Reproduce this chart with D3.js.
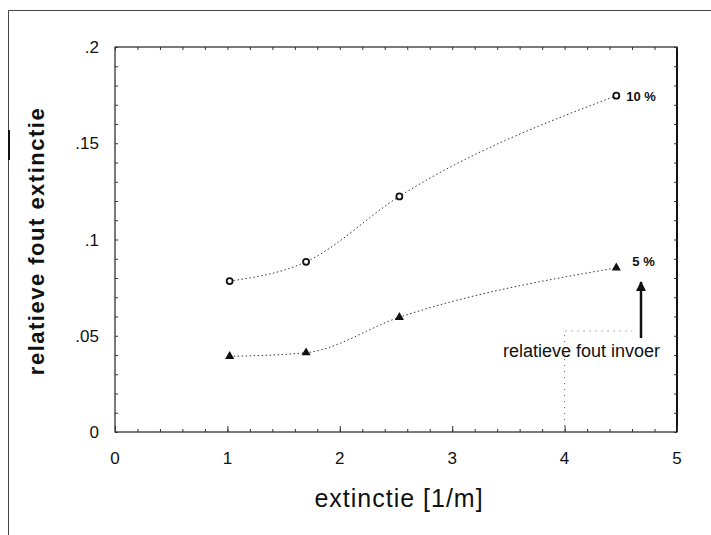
<!DOCTYPE html>
<html>
<head>
<meta charset="utf-8">
<script src="https://cdn.jsdelivr.net/npm/d3@7"></script>
<style>
body{margin:0;background:#fff;}
text{font-family:"Liberation Sans",Arial,sans-serif;fill:#111;}
</style>
</head>
<body>
<div id="chart"></div>
<script>
// values
var ext = [1.02, 1.70, 2.53, 4.46];
var fout10 = [0.0784, 0.0884, 0.1224, 0.1747];
var fout5 = [0.0393, 0.0412, 0.0596, 0.0853];
var xTicks = [0, 1, 2, 3, 4, 5];
var yTicks = [0, 0.05, 0.1, 0.15, 0.2];
var yTickLabels = ["0", ".05", ".1", ".15", ".2"];
var seriesNames = ["10 %", "5 %"];
var invoer = [4, 0.0525];   // corner of dotted guide box

var w = 711, h = 535;
var pLeft = 115, pRight = 677, pTop = 47, pBottom = 432;

var svg = d3.select("#chart").append("svg").attr("width", w).attr("height", h);

// outer frame of the scan
svg.append("path").attr("d", "M8.5," + h + "V10.5H" + w).attr("fill", "none").attr("stroke", "#444").attr("stroke-width", 1);
svg.append("line").attr("x1", 9).attr("x2", 9).attr("y1", 130).attr("y2", 160).attr("stroke", "#111").attr("stroke-width", 2);

var x = d3.scaleLinear().domain([0, 5]).range([pLeft, pRight]);
var y = d3.scaleLinear().domain([0, 0.2]).range([pBottom, pTop]);

// frame
svg.append("rect").attr("x", pLeft).attr("y", pTop).attr("width", pRight - pLeft).attr("height", pBottom - pTop)
    .attr("fill", "none").attr("stroke", "#222").attr("stroke-width", 1.2);
svg.append("line").attr("x1", pRight).attr("x2", pRight).attr("y1", pTop).attr("y2", pBottom).attr("stroke", "#111").attr("stroke-width", 2);

// ticks inward on all sides
var xMinor = d3.range(0, 5.001, 0.2);
var yMinor = d3.range(0, 0.2001, 0.01);
function noDomain(g){ g.select(".domain").remove(); }
svg.append("g").attr("transform", "translate(0," + pBottom + ")")
    .call(d3.axisTop(x).tickValues(xMinor).tickSize(3).tickFormat("")).call(noDomain);
svg.append("g").attr("transform", "translate(0," + pTop + ")")
    .call(d3.axisBottom(x).tickValues(xMinor).tickSize(3).tickFormat("")).call(noDomain);
svg.append("g").attr("transform", "translate(0," + pBottom + ")")
    .call(d3.axisTop(x).tickValues(xTicks).tickSize(6).tickFormat("")).call(noDomain);
svg.append("g").attr("transform", "translate(" + pLeft + ",0)")
    .call(d3.axisRight(y).tickValues(yMinor).tickSize(3).tickFormat("")).call(noDomain);
svg.append("g").attr("transform", "translate(" + pRight + ",0)")
    .call(d3.axisLeft(y).tickValues(yMinor).tickSize(3).tickFormat("")).call(noDomain);
svg.selectAll("g.tick line").attr("stroke", "#333");

// tick labels
svg.append("g").selectAll("text").data(xTicks).enter().append("text")
    .attr("x", function(d){return x(d);}).attr("y", pBottom + 32)
    .attr("text-anchor", "middle").attr("font-size", 17).text(function(d){return d;});
svg.append("g").selectAll("text").data(yTicks).enter().append("text")
    .attr("x", 99).attr("y", function(d){return y(d) + 6;})
    .attr("text-anchor", "end").attr("font-size", 17).text(function(d, i){return yTickLabels[i];});

// axis titles
svg.append("text").attr("x", 399).attr("y", 507).attr("text-anchor", "middle")
    .attr("font-size", 25).attr("letter-spacing", 1).text("extinctie [1/m]");
svg.append("text").attr("transform", "translate(44,241) rotate(-90)").attr("text-anchor", "middle")
    .attr("font-size", 22).attr("font-weight", "bold").attr("letter-spacing", 1.5).text("relatieve fout extinctie");

// dotted guide for "relatieve fout invoer"
svg.append("path")
    .attr("d", "M" + x(invoer[0]) + "," + y(0) + "V" + y(invoer[1]) + "H" + x(4.6))
    .attr("fill", "none").attr("stroke", "#666").attr("stroke-width", 1).attr("stroke-dasharray", "1,5");

// curves
var line = d3.line().x(function(d){return x(d[0]);}).y(function(d){return y(d[1]);}).curve(d3.curveMonotoneX);
var s10 = ext.map(function(d, i){return [d, fout10[i]];});
var s5 = ext.map(function(d, i){return [d, fout5[i]];});
[s10, s5].forEach(function(s){
    svg.append("path").datum(s).attr("d", line).attr("fill", "none")
        .attr("stroke", "#333").attr("stroke-width", 1).attr("stroke-dasharray", "1.5,2.5");
});

svg.append("g").selectAll("circle").data(s10).enter().append("circle")
    .attr("cx", function(d){return x(d[0]);}).attr("cy", function(d){return y(d[1]);})
    .attr("r", 3).attr("fill", "#fff").attr("stroke", "#111").attr("stroke-width", 1.8);
svg.append("g").selectAll("path").data(s5).enter().append("path")
    .attr("transform", function(d){return "translate(" + x(d[0]) + "," + y(d[1]) + ")";})
    .attr("d", d3.symbol().type(d3.symbolTriangle).size(36)).attr("fill", "#111");

// series labels
svg.append("text").attr("x", x(ext[3]) + 10).attr("y", y(fout10[3]) + 5)
    .attr("font-size", 13).attr("font-weight", "bold").text(seriesNames[0]);
svg.append("text").attr("x", x(ext[3]) + 16).attr("y", y(fout5[3]) - 2)
    .attr("font-size", 13).attr("font-weight", "bold").text(seriesNames[1]);

// arrow and note
svg.append("defs").append("marker").attr("id", "ah").attr("viewBox", "0 0 10 10")
    .attr("refX", 9).attr("refY", 5).attr("markerWidth", 4).attr("markerHeight", 5).attr("orient", "auto")
    .append("path").attr("d", "M0,0L10,5L0,10z").attr("fill", "#111");
svg.append("line").attr("x1", 641).attr("x2", 641).attr("y1", 338).attr("y2", 282)
    .attr("stroke", "#111").attr("stroke-width", 2.5).attr("marker-end", "url(#ah)");
svg.append("text").attr("x", 660).attr("y", 357).attr("text-anchor", "end")
    .attr("font-size", 18).text("relatieve fout invoer");
</script>
</body>
</html>
